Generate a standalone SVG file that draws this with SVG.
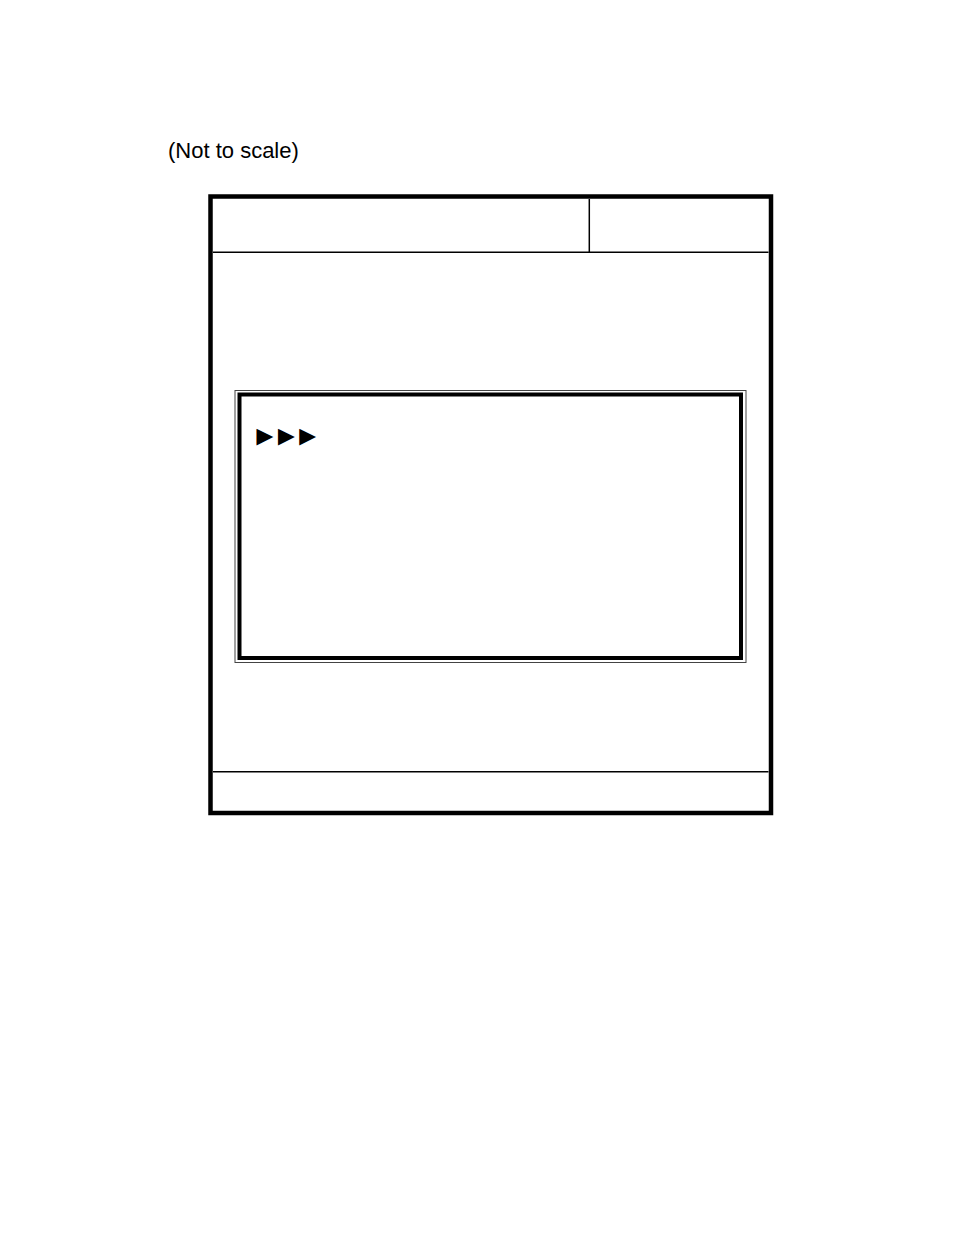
<svg xmlns="http://www.w3.org/2000/svg" width="954" height="1235" viewBox="0 0 954 1235">
<style>
.txt{font-family:"Liberation Sans",Arial,sans-serif;font-size:22px;fill:#000}
.arrows{font-family:"Liberation Sans",Arial,sans-serif;font-size:28px;letter-spacing:-6.3px;fill:#000}
.thick{fill:none;stroke:#000;stroke-width:4.5}
.thin{fill:none;stroke:#000;stroke-width:1.5}
</style>
<rect width="954" height="1235" fill="#fff"/>
<text class="txt" x="168" y="158">(Not to scale)</text>
<g id="frame">
<rect class="thick" x="210.5" y="196.5" width="560.5" height="616.5"/>
<line class="thin" x1="213" y1="252.3" x2="768.5" y2="252.3"/>
<line class="thin" x1="589.3" y1="199" x2="589.3" y2="252.3"/>
<line class="thin" x1="213" y1="771.7" x2="768.5" y2="771.7"/>
</g>
<g id="inner-box">
<rect x="235" y="390.5" width="511" height="272" fill="none" stroke="#444" stroke-width="1"/>
<rect x="239.5" y="394.5" width="501.5" height="263.5" fill="none" stroke="#000" stroke-width="4"/>
<text class="arrows" x="251" y="444.5">►►►</text>
</g>
</svg>
